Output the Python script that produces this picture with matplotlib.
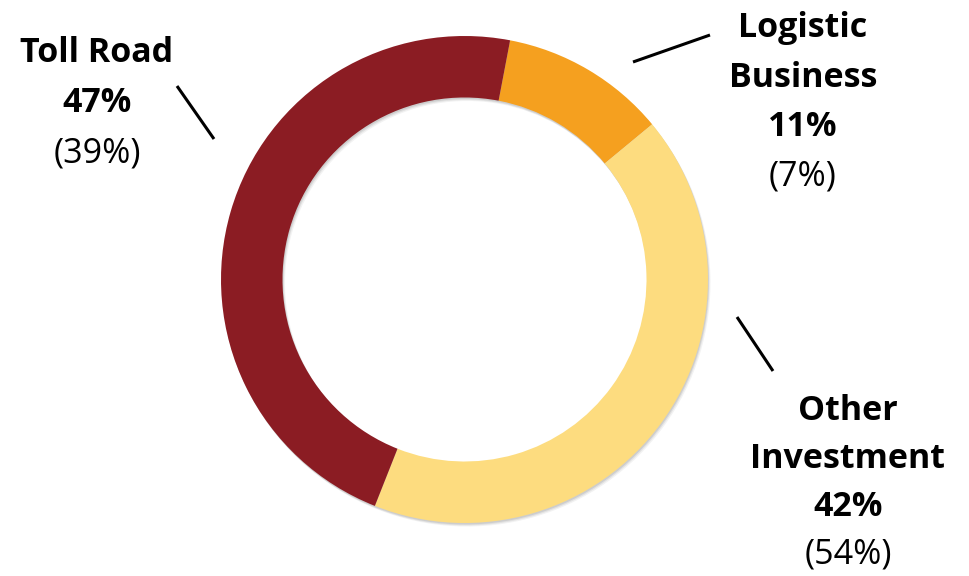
import matplotlib
matplotlib.use("Agg")
import matplotlib.pyplot as plt

# Segment data
categories = ["Toll Road", "Logistic Business", "Other Investment"]
shares = [47, 11, 42]
prior_shares = [39, 7, 54]
label_lines = [["Toll Road"], ["Logistic", "Business"], ["Other", "Investment"]]
colors = ["#8B1C23", "#F5A01F", "#FDDC7F"]

# clockwise drawing order starting just right of 12 o'clock
order = [1, 2, 0]
pie_vals = [shares[i] for i in order]
pie_cols = [colors[i] for i in order]

W, H = 970, 576
fig = plt.figure(figsize=(W / 100, H / 100), dpi=100)
ax = fig.add_axes([0, 0, 1, 1])

cx, cy = 464.5, H - 279.5
r_out, ring = 243.5, 61.5
start = 79.2

# soft shadow under the ring
for dx, dy, a in [(2.5, -3.5, 0.10), (1.5, -2.5, 0.15), (0.8, -1.5, 0.2)]:
    ax.pie(pie_vals, radius=r_out, center=(cx + dx, cy + dy), startangle=start,
           counterclock=False, colors=["#808080"] * 3, frame=True,
           wedgeprops=dict(width=ring, linewidth=0, alpha=a))

ax.pie(pie_vals, radius=r_out, center=(cx, cy), startangle=start,
       counterclock=False, colors=pie_cols, frame=True,
       wedgeprops=dict(width=ring, linewidth=0))
ax.set_xlim(0, W)
ax.set_ylim(0, H)
ax.set_aspect("equal")
ax.axis("off")

font = "Open Sans"
fs = 24.5

def label(x, y_first, lines, share, prior, step=50):
    y = y_first
    for ln in lines:
        ax.text(x, H - y, ln, ha="center", va="baseline", fontsize=fs,
                fontweight="bold", family=font, color="black")
        y += step
    ax.text(x, H - y, f"{share}%", ha="center", va="baseline", fontsize=fs,
            fontweight="bold", family=font, color="black")
    y += step
    ax.text(x, H - y, f"({prior}%)", ha="center", va="baseline", fontsize=fs,
            family=font, color="black")

label(97, 62, label_lines[0], shares[0], prior_shares[0])
label(803, 37, label_lines[1], shares[1], prior_shares[1], step=49.5)
label(848, 420, label_lines[2], shares[2], prior_shares[2], step=48)

# leader lines
for (x0, y0, x1, y1) in [(177, 86, 214, 139), (633, 62, 710, 35), (737, 317, 773, 371)]:
    ax.plot([x0, x1], [H - y0, H - y1], color="black", lw=2.2, solid_capstyle="butt")

fig.savefig("out.png", dpi=100)
